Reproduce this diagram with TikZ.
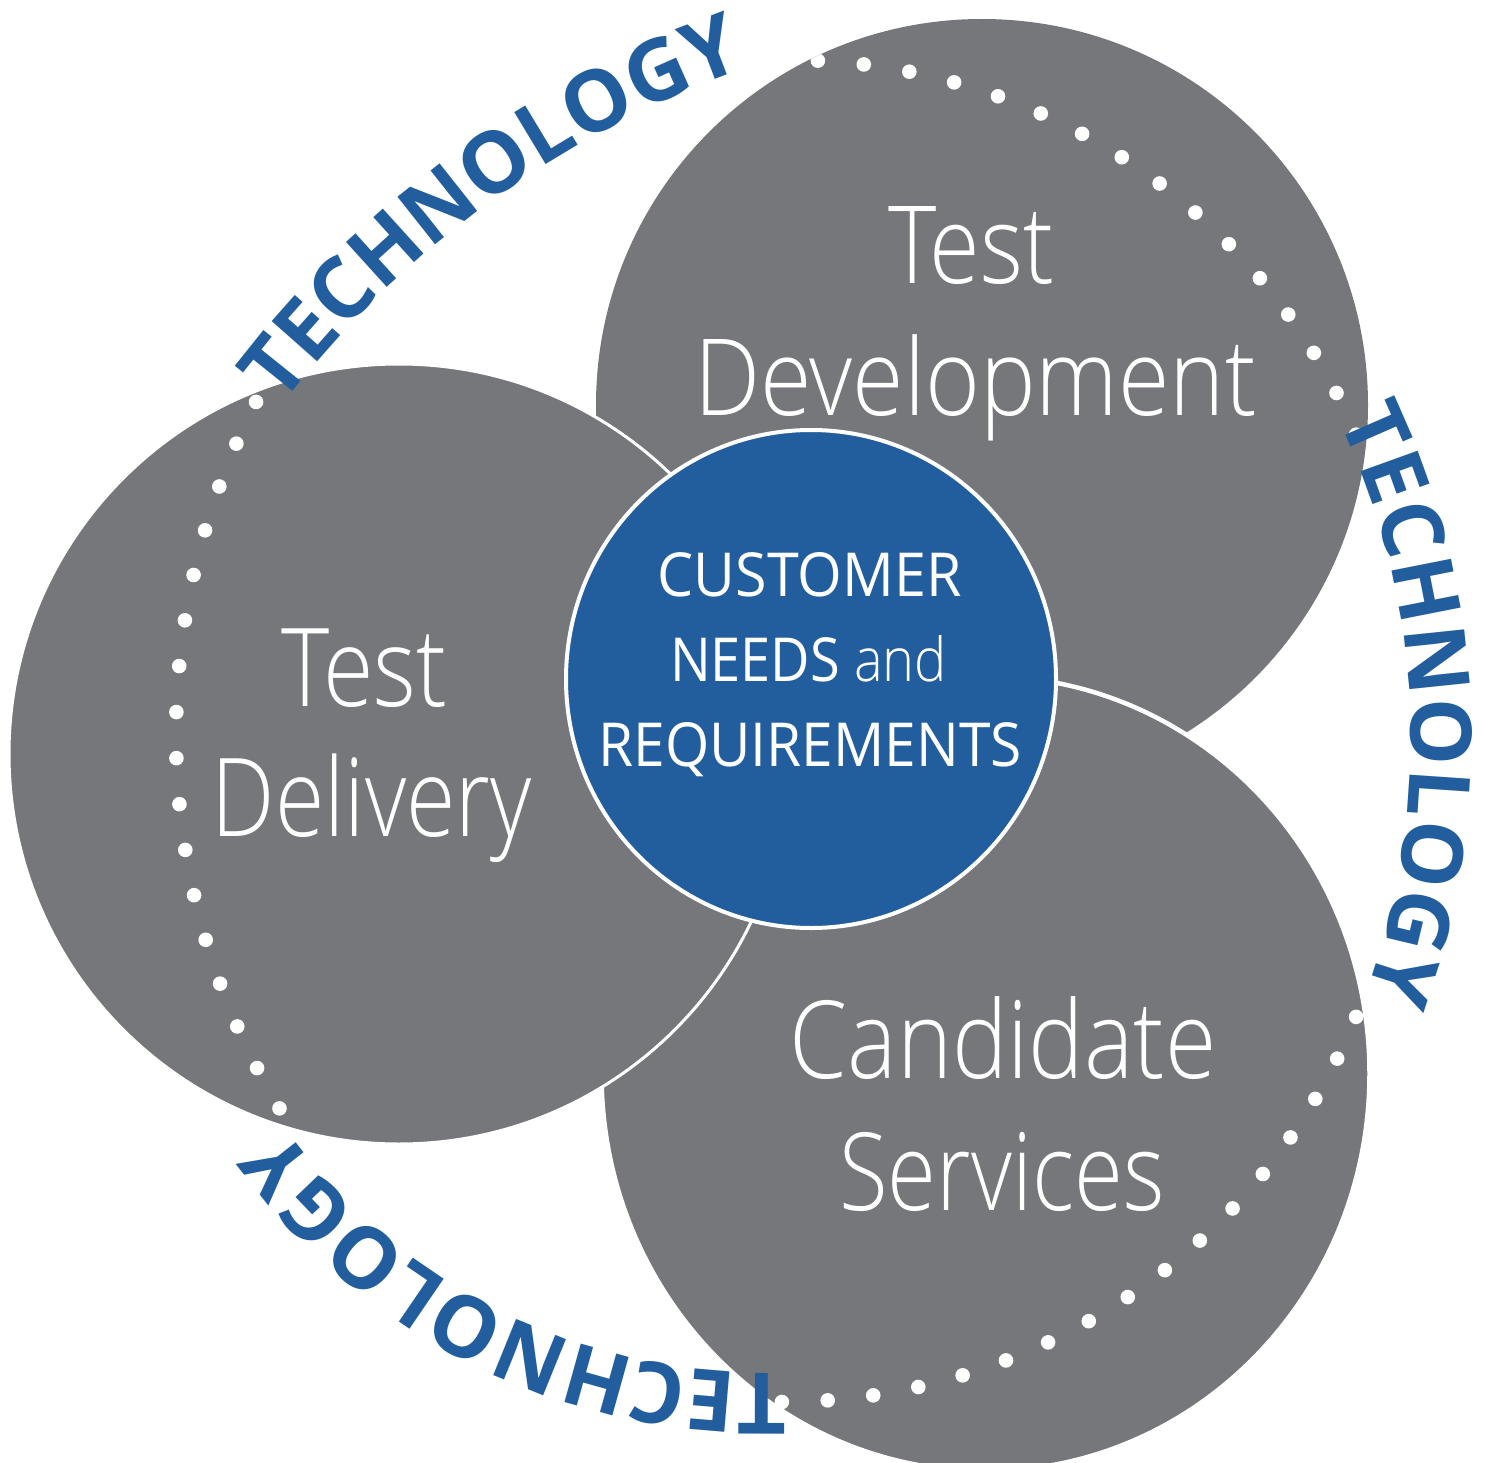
\documentclass[tikz,border=0pt]{standalone}
\usepackage{fontspec}
\usepackage{graphicx}
\usetikzlibrary{decorations.text}
\IfFontExistsTF{Open Sans Light}{\newfontfamily\lightfont{Open Sans Light}}{%
  \IfFontExistsTF{Fira Sans Light}{\newfontfamily\lightfont{Fira Sans Light}}{\newfontfamily\lightfont{Open Sans}}}
\newfontfamily\regfont{Open Sans}
\definecolor{cgray}{HTML}{76777B}
\definecolor{cblue}{HTML}{225E9E}
\newlength\fitlen
\newcommand\fitto[3]{%
  \settowidth\fitlen{#3}\pgfmathsetmacro\fitsx{#1/\fitlen}%
  \settoheight\fitlen{H}\pgfmathsetmacro\fitsy{#2/\fitlen}%
  \scalebox{\fitsx}[\fitsy]{#3}}
\tikzset{
  bubble/.style={fill=cgray, draw=white},
  dotmark/.style={fill=white},
  lbl/.style={text=white, inner sep=0pt, anchor=base, font=\lightfont\fontsize{100}{100}\selectfont},
  core/.style={text=white, inner sep=0pt, anchor=base, font=\regfont\fontsize{60}{60}\selectfont},
  techpath/.style={decorate, decoration={text along path, text align=fit to path,
      text={|\regfont\bfseries\fontsize{85}{85}\selectfont\color{cblue}|TECHNOLOGY}}}
}
\begin{document}
\begin{tikzpicture}[x=1pt,y=-1pt]
\path[use as bounding box, fill=white] (0,0) rectangle (1489,1463);
% gray circles
\fill[cgray] (982,405) circle[radius=386];
\filldraw[bubble, line width=4.5pt] (985.5,1073.6) ellipse[x radius=384, y radius=397.5];
\filldraw[bubble, line width=3pt] (399,754) circle[radius=390];
% dotted arcs
\begin{scope}
  \clip (982,405) circle[radius=386];
  \foreach \i in {-2,...,16} {\fill[dotmark] (790,675) ++({-87.4+\i*4.293}:615) circle[radius=7.3];}
\end{scope}
\begin{scope}
  \clip (985.5,1073.6) ellipse[x radius=382, y radius=395.5];
  \foreach \i in {-2,...,18} {\fill[dotmark] (783,783) ++({22.2+\i*4.244}:619) circle[radius=7.3];}
\end{scope}
\begin{scope}
  \clip (399,754) circle[radius=388.5];
  \foreach \i in {-2,...,18} {\fill[dotmark] (905,734) ++({149.1+\i*3.625}:729) circle[radius=7.3];}
\end{scope}
% center circle
\filldraw[fill=cblue, draw=white, line width=4pt] (811,679) ellipse[x radius=245, y radius=249];
% labels
\node[lbl] (tdev1) at (971,284) {\fitto{166}{77}{Test}};
\node[lbl] (tdev2) at (975.3,415.5) {\fitto{562.5}{76}{Development}};
\node[lbl] (tdel1) at (364.5,706) {\fitto{165.6}{77.7}{Test}};
\node[lbl] (tdel2) at (371.7,836) {\fitto{320}{77.7}{Delivery}};
\node[lbl] (cs1) at (1003,1078.3) {\fitto{426.7}{77}{Candidate}};
\node[lbl] (cs2) at (1002,1210) {\fitto{325.3}{77}{Services}};
\node[core] (c1) at (809.7,596.7) {\fitto{304}{43.3}{CUSTOMER}};
\node[core] (c2) at (808.5,681.7) {\fitto{277}{43.3}{NEEDS {\lightfont and}}};
\node[core] (c3) at (810,766.7) {\fitto{423.4}{43.3}{REQUIREMENTS}};
% TECHNOLOGY arcs
\path (1077,1012) ++(217.3:1000) coordinate (tA);
\path[techpath] (tA) arc[start angle=217.3, end angle=250.5, radius=1000];
\path (665,740) ++(-25.5:746) coordinate (tB);
\path[techpath] (tB) arc[start angle=-25.5, end angle=20, radius=746];
\path (764,782) ++(87.8:591) coordinate (tC);
\path[techpath] (tC) arc[start angle=87.8, end angle=143.5, radius=591];
\end{tikzpicture}
\end{document}
